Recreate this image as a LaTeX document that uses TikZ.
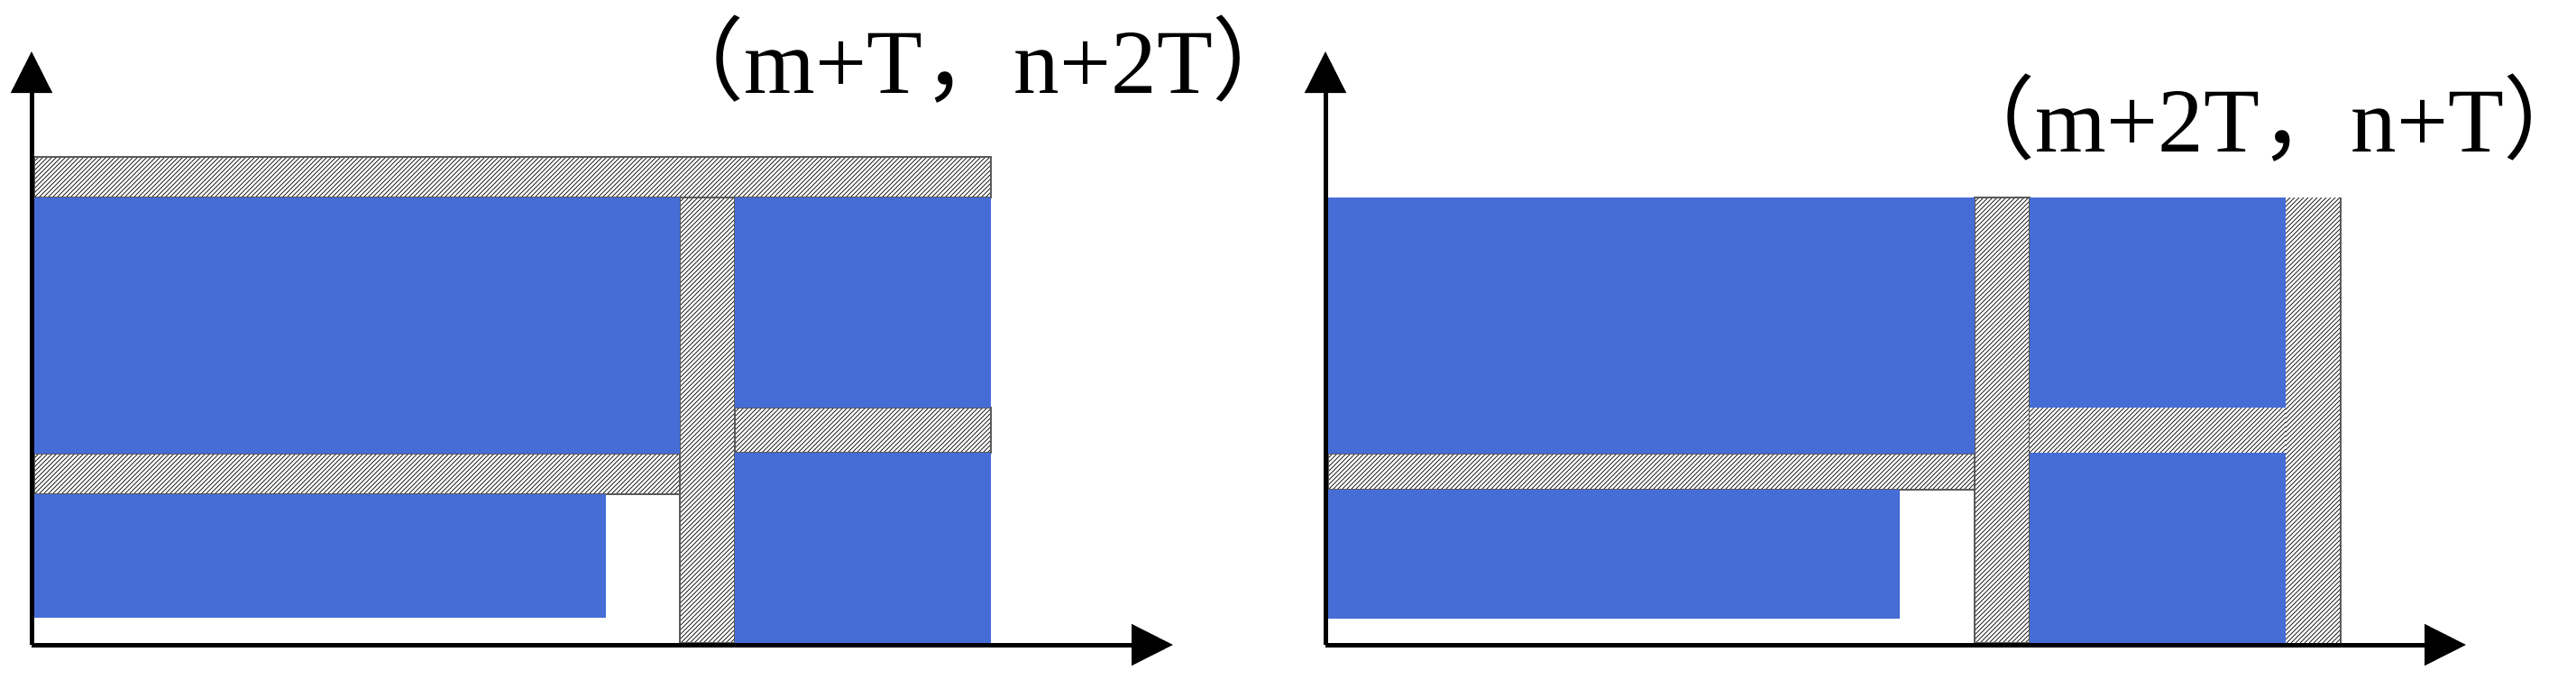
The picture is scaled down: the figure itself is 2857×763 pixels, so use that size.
\documentclass[tikz,border=0pt]{standalone}
\usepackage{fontspec}
\setmainfont{Liberation Serif}
\newfontfamily\cjk{Noto Sans CJK SC}
\usetikzlibrary{arrows.meta}
\definecolor{tileblue}{RGB}{70,108,214}
\definecolor{hatchedge}{RGB}{90,90,90}
\tikzset{
  hatchline/.style={line width=0.09mm,black!85},
  hatchborder/.style={draw=hatchedge,line width=0.12mm},
  tile/.style={fill=tileblue,draw=none},
  axis/.style={line width=0.5mm,-{Triangle[length=4.6mm,width=4.5mm]}},
  coordlabel/.style={inner sep=0pt,anchor=base west,font=\fontsize{28.8}{35}\selectfont}
}
% hatched box: #1=x1 #2=y1 #3=x2 #4=y2 (y downward, in 0.1mm units)
\newcommand\hatchbox[4]{%
  \begin{scope}
    \clip (#1,#2) rectangle (#3,#4);
    \fill[white] (#1,#2) rectangle (#3,#4);
    \pgfmathsetmacro\hbh{#4-#2}%
    \pgfmathsetmacro\hbs{#1-\hbh}%
    \pgfmathsetmacro\hbn{\hbs+5}%
    \foreach \k in {\hbs,\hbn,...,#3}
      \draw[hatchline] (\k,#4) -- ++(\hbh,-\hbh);
  \end{scope}}
\begin{document}
\begin{tikzpicture}[x=0.1mm,y=-0.1mm]
\useasboundingbox (0,0) rectangle (2857,763);
% ---------------- left panel ----------------
\coordinate (LO) at (35,715);
\coordinate (LY) at (35,57);
\coordinate (LX) at (1301,715);
\hatchbox{38}{174}{1099}{219}
\draw[hatchborder] (38,174) rectangle (1099,219);
\hatchbox{754}{219}{815}{713}
\draw[hatchborder] (754,219) rectangle (815,713);
\hatchbox{815}{452}{1099}{502}
\draw[hatchborder] (815,452) rectangle (1099,502);
\hatchbox{38}{503}{754}{548}
\draw[hatchborder] (38,503) rectangle (754,548);
\path[tile] (38,219) rectangle (754,503);
\path[tile] (815,219) rectangle (1099,452);
\path[tile] (815,502) rectangle (1099,713);
\path[tile] (38,548) rectangle (672,685);
\draw[axis] (LO) -- (LY);
\draw[axis] (LO) -- (LX);
\node[coordlabel] (L1) at (724,103) {{\cjk （}m+T{\cjk ，}n+2T{\cjk ）}};
% ---------------- right panel ----------------
\coordinate (RO) at (1470,715);
\coordinate (RY) at (1470,57);
\coordinate (RX) at (2735,715);
\hatchbox{1473}{503}{2190}{543}
\draw[hatchborder] (1473,503) rectangle (2190,543);
\hatchbox{2190}{219}{2251}{713}
\draw[hatchborder] (2190,219) rectangle (2251,713);
\hatchbox{2251}{452}{2596}{502}
\hatchbox{2535}{219}{2596}{713}
\draw[hatchborder] (2596,219) -- (2596,713);
\path[tile] (1473,219) rectangle (2190,503);
\path[tile] (2251,219) rectangle (2535,452);
\path[tile] (2251,502) rectangle (2535,713);
\path[tile] (1473,543) rectangle (2107,686);
\draw[axis] (RO) -- (RY);
\draw[axis] (RO) -- (RX);
\node[coordlabel] (R1) at (2156,168) {{\cjk （}m+2T{\cjk ，}n+T{\cjk ）}\kern-0.55em};
\end{tikzpicture}
\end{document}
